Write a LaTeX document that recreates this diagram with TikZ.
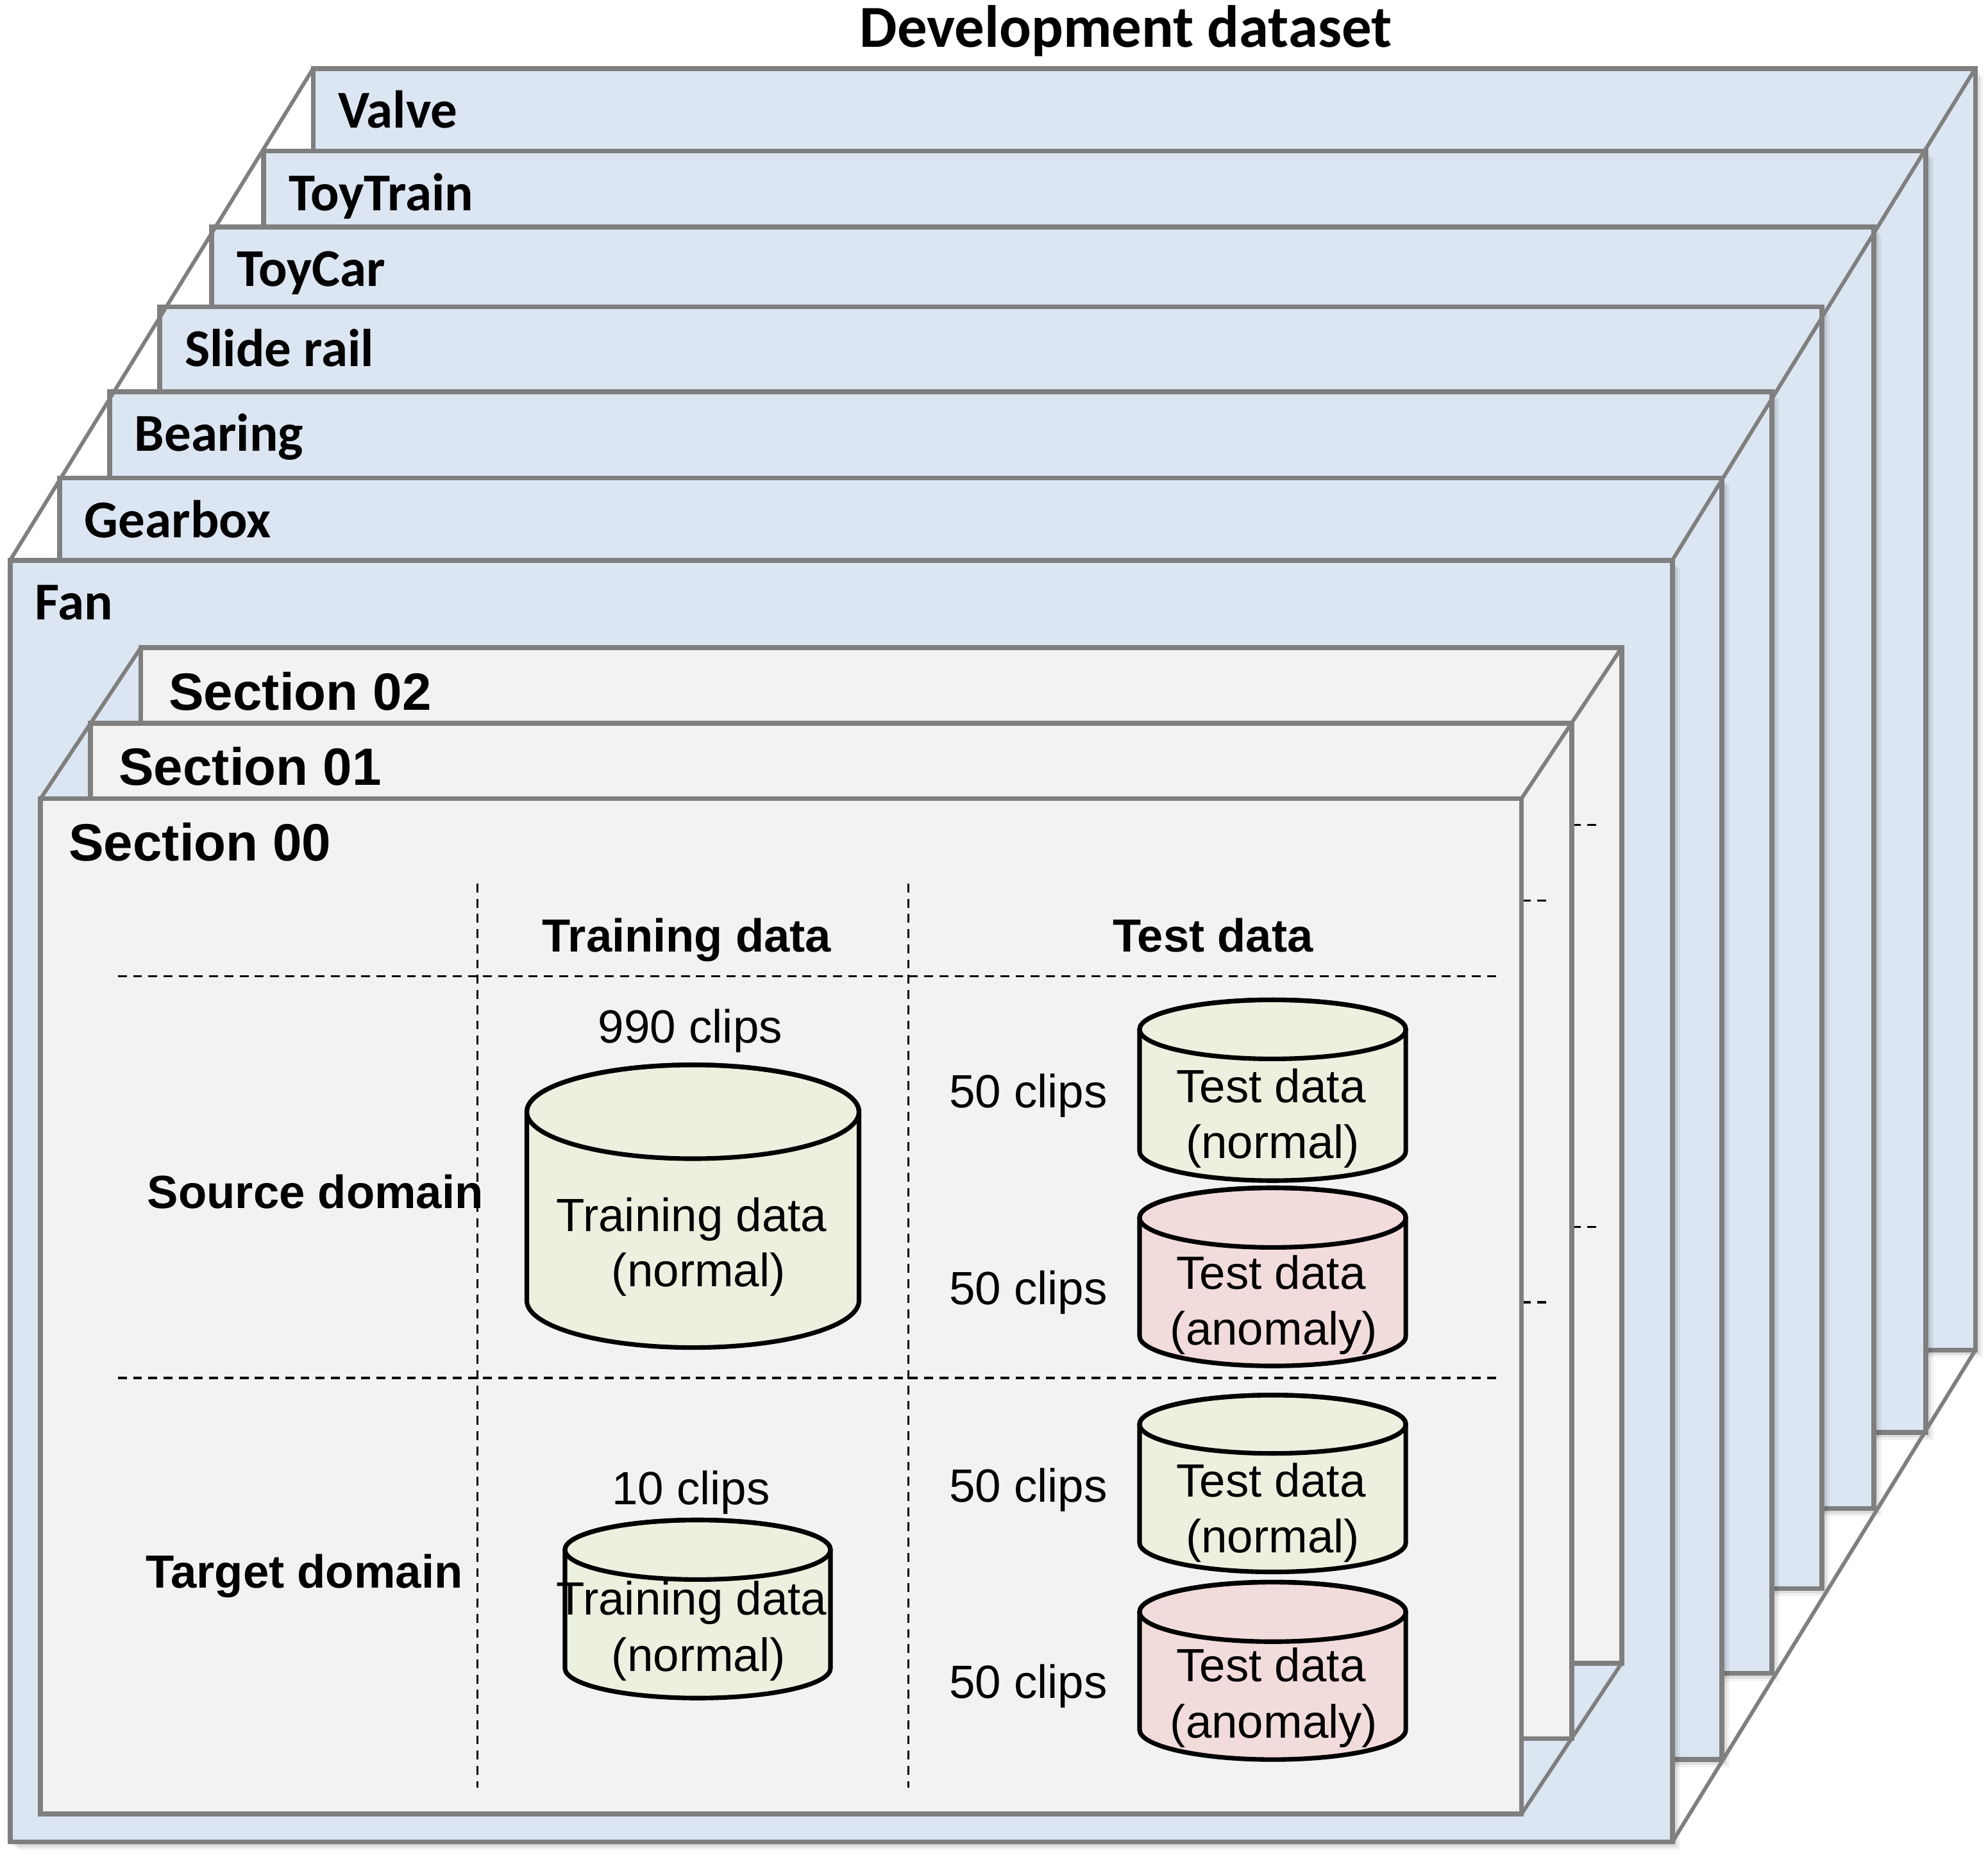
\documentclass[tikz,border=0pt]{standalone}
\usepackage{fontspec}
\setmainfont{Liberation Sans}
\newfontfamily\carlito{Carlito}
\usetikzlibrary{shadows}
\definecolor{panelblue}{HTML}{DCE6F2}
\definecolor{secgray}{HTML}{F2F2F2}
\definecolor{edgegray}{HTML}{7F7F7F}
\definecolor{normgreen}{HTML}{EBF1DE}
\definecolor{anompink}{HTML}{F2DCDB}
\newcommand\drum[6]{%
  \filldraw[cylline, fill=#6] (#1-#4,#2) -- (#1-#4,#3)
    arc[start angle=180,end angle=0,x radius=#4,y radius=#5] -- (#1+#4,#2)
    arc[start angle=0,end angle=-180,x radius=#4,y radius=#5] -- cycle;
  \draw[cylline] (#1,#2) ellipse[x radius=#4, y radius=#5];
}
\newcommand\hgrid{%
  \draw[griddash] (1180,770) -- (88.5,770);
  \draw[griddash] (1180,1087) -- (88.5,1087);
}
\begin{document}
\begin{tikzpicture}[x=1pt,y={(0pt,-1pt)},
  softshadow/.style={
    drop shadow={shadow xshift=2pt,shadow yshift=-2pt,fill=black,opacity=0.12},
    drop shadow={shadow xshift=4pt,shadow yshift=-4pt,fill=black,opacity=0.08},
    drop shadow={shadow xshift=6pt,shadow yshift=-6pt,fill=black,opacity=0.05}},
  machine/.style={draw=edgegray, line width=3.8pt, fill=panelblue,
    minimum width=1311pt, minimum height=1011pt, anchor=north west,
    inner sep=0pt, outer sep=0pt, softshadow},
  section/.style={draw=edgegray, line width=4pt, fill=secgray,
    minimum width=1168pt, minimum height=801pt, anchor=north west,
    inner sep=0pt, outer sep=0pt},
  diag/.style={draw=edgegray, line width=3pt},
  machlabel/.style={font=\carlito\bfseries\fontsize{42}{50}\selectfont,
    anchor=base west, inner sep=0pt},
  titlelabel/.style={font=\carlito\bfseries\fontsize{47}{56}\selectfont,
    anchor=base, inner sep=0pt},
  seclabel/.style={font=\bfseries\fontsize{41.4}{48}\selectfont,
    anchor=base west, inner sep=0pt},
  headlabel/.style={font=\bfseries\fontsize{36.6}{44}\selectfont,
    anchor=base, inner sep=0pt},
  rowlabel/.style={font=\bfseries\fontsize{36.7}{44}\selectfont,
    anchor=base west, inner sep=0pt},
  plain/.style={font=\fontsize{36.8}{44}\selectfont, anchor=base, inner sep=0pt},
  cylline/.style={draw=black, line width=3.6pt},
  griddash/.style={draw=black, line width=1.6pt, dash pattern=on 7pt off 5pt}
]
\fill[white, use as bounding box] (0,0) rectangle (1568,1463);

% title
\node[titlelabel] (title) at (888,37) {Development dataset};

% machine panels, back to front
\node[machine] (valve) at (247,54) {};
\node[machlabel] (valvelbl) at (266.5,101) {Valve};
\node[machine] (toytrain) at (208,119) {};
\node[machlabel] (toytrainlbl) at (227.5,166) {ToyTrain};
\node[machine] (toycar) at (167,179) {};
\node[machlabel] (toycarlbl) at (186.5,226) {ToyCar};
\node[machine] (sliderail) at (126,242) {};
\node[machlabel] (sliderailbl) at (145.5,289) {Slide rail};
\node[machine] (bearing) at (86.5,309) {};
\node[machlabel] (bearinglbl) at (106,356) {Bearing};
\node[machine] (gearbox) at (47,377) {};
\node[machlabel] (gearboxlbl) at (66.5,424) {Gearbox};
\node[machine] (fan) at (8,442) {};
\node[machlabel] (fanlbl) at (27.5,489) {Fan};

\draw[diag] (fan.north west) -- (valve.north west);
\draw[diag] (fan.north east) -- (valve.north east);
\draw[diag] (fan.south east) -- (valve.south east);

% sections, back to front
\node[section] (sec02) at (111,511) {};
\begin{scope}[shift={(79,-119.3)}]\hgrid\end{scope}
\node[seclabel] (sec02lbl) at (133,560) {Section 02};
\node[section] (sec01) at (71.5,570.5) {};
\begin{scope}[shift={(39.5,-59.7)}]\hgrid\end{scope}
\node[seclabel] (sec01lbl) at (93.5,619.5) {Section 01};
\node[section] (sec00) at (32,630) {};
\node[seclabel] (sec00lbl) at (54,679) {Section 00};

\draw[diag] (sec00.north west) -- (sec02.north west);
\draw[diag] (sec00.north east) -- (sec02.north east);
\draw[diag] (sec00.south east) -- (sec02.south east);

% grid of section 00
\draw[griddash] (376.5,697) -- (376.5,1410);
\draw[griddash] (716.5,697) -- (716.5,1410);
\hgrid

% headers
\node[headlabel] (hdtrain) at (541.6,751) {Training data};
\node[headlabel] (hdtest) at (956.6,751) {Test data};
\node[rowlabel] (rowsrc) at (116,953) {Source domain};
\node[rowlabel] (rowtgt) at (114.7,1252.4) {Target domain};

% source domain
\node[plain] (c990) at (544.5,822.6) {990 clips};
\drum{546.5}{877}{1026}{131}{37}{normgreen}
\node[plain] (bigtr1) at (545.5,971.6) {Training data};
\node[plain] (bigtr2) at (551,1015) {(normal)};

\node[plain] (c50a) at (811,874) {50 clips};
\drum{1003.8}{812}{908}{105}{23.3}{normgreen}
\node[plain] (stn1) at (1002.5,869.5) {Test data};
\node[plain] (stn2) at (1003.8,913.6) {(normal)};

\node[plain] (c50b) at (811,1029) {50 clips};
\drum{1003.8}{960.5}{1054}{105}{23.5}{anompink}
\node[plain] (sta1) at (1002.5,1016.8) {Test data};
\node[plain] (sta2) at (1004.8,1061) {(anomaly)};

% target domain
\node[plain] (c10) at (545,1187) {10 clips};
\drum{550.3}{1222.5}{1316}{104.7}{23.5}{normgreen}
\node[plain] (smtr1) at (545.5,1274) {Training data};
\node[plain] (smtr2) at (551,1318.6) {(normal)};

\node[plain] (c50c) at (811,1185) {50 clips};
\drum{1003.8}{1123.5}{1217}{105}{23}{normgreen}
\node[plain] (ttn1) at (1002.5,1181) {Test data};
\node[plain] (ttn2) at (1003.8,1225) {(normal)};

\node[plain] (c50d) at (811,1339.5) {50 clips};
\drum{1003.8}{1271.5}{1364.5}{105}{23.5}{anompink}
\node[plain] (tta1) at (1002.5,1326.6) {Test data};
\node[plain] (tta2) at (1004.8,1370.8) {(anomaly)};
\end{tikzpicture}
\end{document}
